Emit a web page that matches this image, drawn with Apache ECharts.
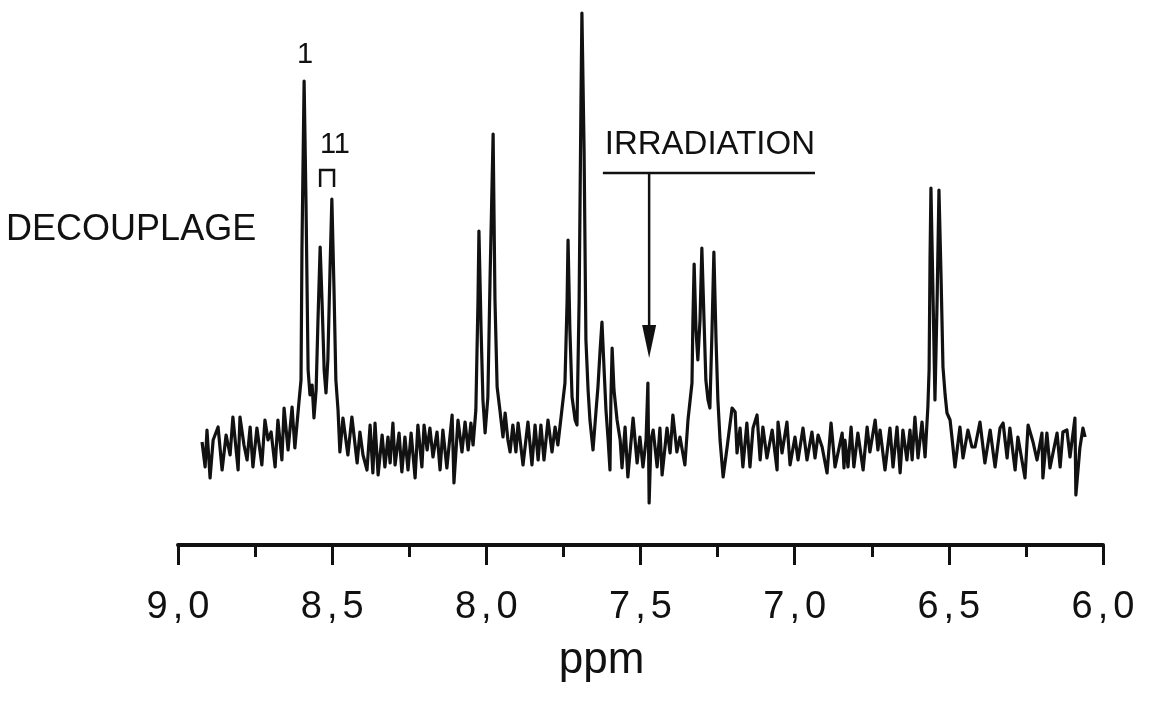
<!DOCTYPE html>
<html><head><meta charset="utf-8">
<script src="https://cdn.jsdelivr.net/npm/echarts@6/dist/echarts.min.js"></script>
<style>html,body{margin:0;padding:0;background:#fff}#c{width:1152px;height:704px}</style>
</head><body><div id="c"></div>
<script>
// 1H NMR trace: [chemical shift (ppm), intensity (arbitrary units, baseline = 0)]
const spectrum = [
 [8.922,3],[8.912,-22],[8.906,15],[8.896,-33],[8.886,5],[8.870,18],[8.857,-25],[8.844,10],[8.831,-10],[8.822,28],
 [8.805,-25],[8.799,28],[8.786,0],[8.776,-15],[8.766,18],[8.757,-22],[8.744,17],[8.728,-20],[8.718,25],[8.708,5],
 [8.698,13],[8.685,-22],[8.676,25],[8.663,-15],[8.656,37],[8.643,-5],[8.630,38],[8.621,-3],[8.608,42],[8.601,65],
 [8.598,195],[8.591,364],[8.585,245],[8.578,75],[8.572,50],[8.565,60],[8.559,27],[8.552,55],[8.546,125],[8.539,198],
 [8.533,145],[8.526,75],[8.520,52],[8.514,85],[8.507,175],[8.501,246],[8.494,155],[8.488,65],[8.481,35],[8.475,-7],
 [8.465,27],[8.449,-10],[8.436,28],[8.419,-18],[8.410,13],[8.400,-10],[8.387,-25],[8.377,20],[8.368,-28],[8.361,22],
 [8.351,-30],[8.338,10],[8.329,-22],[8.319,8],[8.312,-18],[8.303,22],[8.296,-20],[8.283,12],[8.274,-27],[8.264,8],
 [8.254,-25],[8.244,12],[8.231,-33],[8.222,20],[8.209,-22],[8.202,20],[8.192,-5],[8.183,17],[8.173,-12],[8.160,13],
 [8.150,-25],[8.141,15],[8.128,-23],[8.111,30],[8.105,-38],
 [8.092,25],[8.079,-7],[8.069,23],[8.059,-5],[8.050,22],[8.043,0],[8.034,35],[8.027,145],[8.024,214],[8.017,115],
 [8.011,45],[8.004,12],[7.995,48],[7.988,165],[7.978,311],[7.972,145],[7.965,58],[7.956,35],[7.946,8],[7.939,32],
 [7.930,5],[7.923,-7],[7.914,20],[7.904,-7],[7.897,22],[7.881,-20],[7.865,23],[7.852,-20],[7.842,20],[7.832,-15],
 [7.823,20],[7.813,-15],[7.800,25],[7.787,-7],[7.777,18],[7.768,0],[7.755,35],[7.745,62],[7.738,145],[7.735,205],
 [7.729,115],[7.722,48],[7.712,25],[7.706,20],[7.699,145],[7.693,345],[7.690,432],[7.683,295],[7.677,105],[7.670,55],
 [7.664,25],[7.654,-5],[7.644,35],[7.638,58],[7.631,95],[7.625,123],[7.618,75],[7.612,35],[7.605,5],[7.599,-25],
 [7.596,45],[7.592,97],[7.586,55],[7.576,25],[7.566,5],[7.560,-23],[7.550,18],[7.541,-32],[7.524,27],[7.511,-18],
 [7.502,8],[7.492,-22],[7.482,5],[7.476,62],[7.472,-58],[7.466,5],[7.459,15],[7.446,-22],[7.437,17],[7.430,-30],
 [7.414,17],[7.404,-8],[7.395,30],[7.382,-7],[7.372,8],[7.356,-20],[7.346,25],[7.339,45],[7.333,62],[7.330,125],
 [7.326,181],[7.320,115],[7.314,85],[7.307,125],[7.301,197],[7.294,125],[7.288,65],[7.281,45],[7.275,37],[7.268,115],
 [7.262,193],[7.255,105],[7.249,45],[7.242,5],[7.232,-32],
 [7.219,-2],[7.203,37],[7.193,33],[7.187,-8],[7.177,17],[7.168,-22],[7.155,22],[7.145,-22],[7.135,17],[7.122,30],
 [7.112,-15],[7.103,18],[7.090,-13],[7.073,15],[7.057,-25],[7.054,23],[7.041,-8],[7.025,23],[7.015,-20],[6.999,8],
 [6.989,-15],[6.973,17],[6.960,-15],[6.944,13],[6.934,-13],[6.924,10],[6.911,-2],[6.895,-28],[6.882,22],[6.869,-22],
 [6.846,12],[6.840,-23],
 [6.837,5],[6.827,-22],[6.817,18],[6.808,-22],[6.795,12],[6.778,-25],[6.765,18],[6.756,-7],[6.739,25],[6.730,-5],
 [6.723,15],[6.707,-25],[6.691,17],[6.681,-22],[6.668,18],[6.658,-28],[6.649,15],[6.636,-15],[6.626,15],[6.619,-15],
 [6.610,28],[6.600,-13],[6.587,23],[6.577,-12],[6.568,38],[6.564,75],[6.561,185],[6.558,257],[6.551,145],[6.545,45],
 [6.538,145],[6.532,255],[6.525,165],[6.519,78],[6.512,50],[6.506,32],[6.496,25],[6.490,8],[6.480,-22],[6.464,18],
 [6.454,-13],[6.438,15],[6.425,-2],
 [6.415,-2],[6.399,23],[6.383,-18],[6.366,15],[6.350,-22],[6.334,17],[6.324,22],[6.311,-13],[6.302,17],[6.285,-25],
 [6.276,8],[6.253,-33],[6.243,20],[6.227,3],[6.214,-15],[6.198,12],[6.195,-33],[6.182,12],[6.172,-23],[6.149,12],
 [6.139,-22],[6.130,13],[6.117,15],[6.107,-12],[6.091,27],[6.088,-50],[6.075,-3],[6.065,17],[6.058,8]
];
const axisMin = 6.0, axisMax = 9.0, majorStep = 0.5;
const axisTitle = 'ppm';
// annotations, anchored in data coordinates [ppm, intensity]
const peakLabels = [
 {text: '1', at: [8.588, 390]},
 {text: '11', at: [8.491, 300]}
];
const bracket = [[8.539, 258], [8.539, 275], [8.494, 275], [8.494, 258]];
const irradiationText = {text: 'IRRADIATION', at: [7.275, 300]};
const irradiationBar = [[7.622, 272], [6.934, 272]];
const irradiationArrow = [[7.472, 272], [7.472, 87]];
const sideLabel = {text: 'DECOUPLAGE', at: [9.152, 215]};

const FONT = '"Liberation Sans", Arial, Helvetica, sans-serif';
const INK = '#111';
const chart = echarts.init(document.getElementById('c'), null, {renderer: 'canvas'});
chart.setOption({
  animation: false,
  backgroundColor: '#fff',
  grid: {left: 178, right: 49, top: 12, bottom: 159, containLabel: false},
  xAxis: {
    type: 'value', min: axisMin, max: axisMax, interval: majorStep, inverse: true,
    name: axisTitle, nameLocation: 'middle', nameGap: 94,
    nameTextStyle: {fontFamily: FONT, fontSize: 44, color: INK, padding: [0, 78, 0, 0]},
    axisLine: {show: true, onZero: false, lineStyle: {color: INK, width: 4}},
    axisTick: {show: true, length: 20, lineStyle: {color: INK, width: 3}},
    minorTick: {show: true, splitNumber: 2, length: 12, lineStyle: {color: INK, width: 3}},
    splitLine: {show: false}, minorSplitLine: {show: false},
    axisLabel: {
      margin: 44, color: INK, fontFamily: FONT, fontSize: 38,
      formatter: v => { const s = v.toFixed(1).split('.'); return '{d|' + s[0] + '}{c|,}{d|' + s[1] + '}'; },
      rich: {d: {fontFamily: FONT, fontSize: 38, color: INK}, c: {fontFamily: FONT, fontSize: 38, color: INK, padding: [0, 5, 0, 5]}}
    }
  },
  yAxis: {type: 'value', min: -100, max: 433, show: false},
  series: [{
    type: 'line', data: spectrum, showSymbol: false, symbol: 'none',
    lineStyle: {color: INK, width: 3.2, join: 'round'}, clip: false
  }]
});

function px(p) { return chart.convertToPixel({gridIndex: 0}, p); }
const g = [];
peakLabels.forEach(l => { const p = px(l.at); g.push({type: 'text', x: p[0], y: p[1], style: {text: l.text, fill: INK, font: '29px ' + FONT, textAlign: 'center', textVerticalAlign: 'middle'}}); });
g.push({type: 'polyline', shape: {points: bracket.map(px)}, style: {stroke: INK, lineWidth: 2.5, fill: null}});
(function () { const p = px(irradiationText.at); g.push({type: 'text', x: p[0], y: p[1], style: {text: irradiationText.text, fill: INK, font: '33px ' + FONT, textAlign: 'center', textVerticalAlign: 'middle'}}); })();
g.push({type: 'line', shape: (() => { const a = px(irradiationBar[0]), b = px(irradiationBar[1]); return {x1: a[0], y1: a[1], x2: b[0], y2: b[1]}; })(), style: {stroke: INK, lineWidth: 2.5}});
(function () {
  const a = px(irradiationArrow[0]), b = px(irradiationArrow[1]);
  const headH = 33, headW = 7;
  g.push({type: 'line', shape: {x1: a[0], y1: a[1], x2: b[0], y2: b[1] - headH}, style: {stroke: INK, lineWidth: 2.5}});
  g.push({type: 'polygon', shape: {points: [[b[0] - headW, b[1] - headH], [b[0] + headW, b[1] - headH], [b[0], b[1]]]}, style: {fill: INK}});
})();
(function () { const p = px(sideLabel.at); g.push({type: 'text', x: p[0], y: p[1], style: {text: sideLabel.text, fill: INK, font: '36px ' + FONT, textAlign: 'center', textVerticalAlign: 'middle'}}); })();
chart.setOption({graphic: g});
</script></body></html>
